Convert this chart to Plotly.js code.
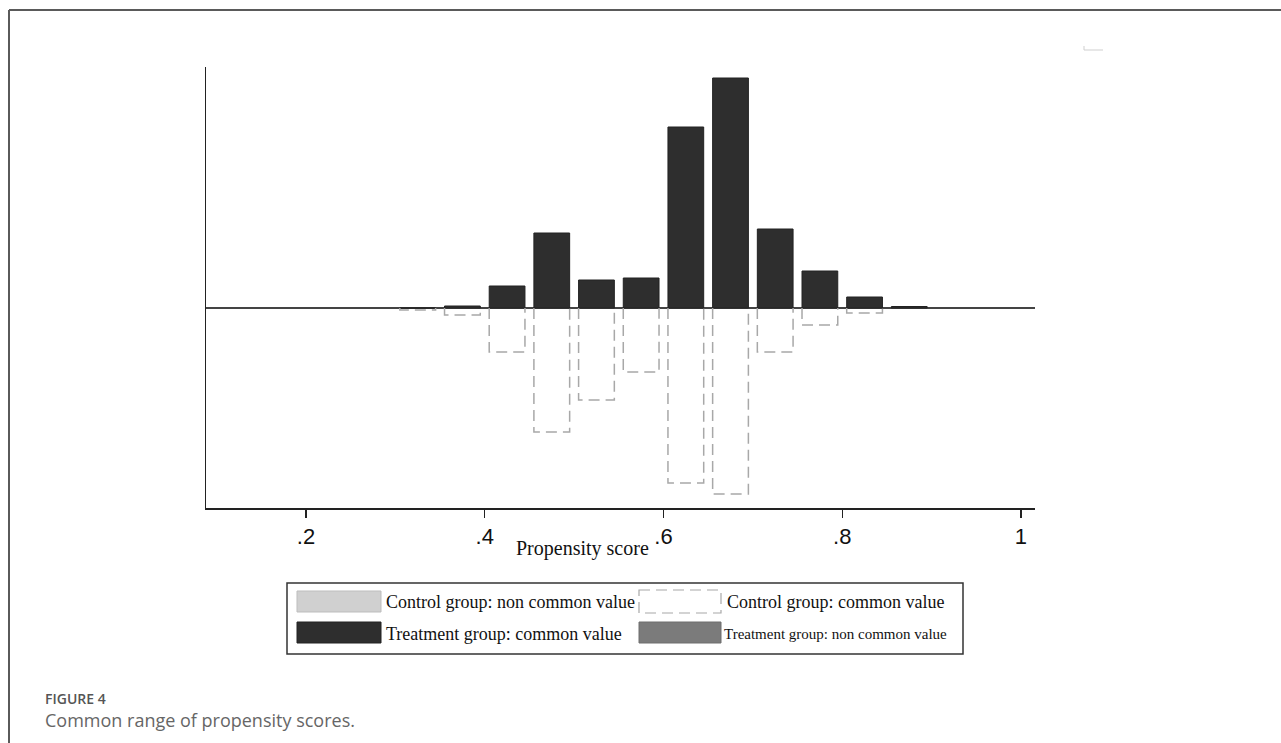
<!DOCTYPE html>
<html>
<head>
<meta charset="utf-8">
<script src="https://cdn.plot.ly/plotly-3.0.1.min.js"></script>
<style>
  html, body { margin: 0; padding: 0; background: #fff; }
  #chart { width: 1281px; height: 743px; }
</style>
</head>
<body>
<div id="chart"></div>
<script>
// ---- data ----
const binCenters      = [0.325, 0.375, 0.425, 0.475, 0.525, 0.575, 0.625, 0.675, 0.725, 0.775, 0.825, 0.875];
const treatmentCommon = [0.0,   0.2,   2.2,   7.5,   2.8,   3.0,   18.1,  23.0,  7.9,   3.7,   1.1,   0.15];
const controlCommon   = [-0.2, -0.7,  -4.4, -12.4,  -9.2,  -6.4, -17.5, -18.6,  -4.4,  -1.7,  -0.5,   0.0];
const tickVals  = [0.2, 0.4, 0.6, 0.8, 1.0];
const tickText  = ['.2', '.4', '.6', '.8', '1'];
const legendLabels = [
  'Control group: non common value',
  'Control group: common value',
  'Treatment group: common value',
  'Treatment group: non common value'
];
const xTitle = 'Propensity score';
const figLabel = 'FIGURE 4';
const figCaption = 'Common range of propensity scores.';

// ---- styling / geometry ----
const barWidth = 0.04;
const W = 1281, H = 743;
const L = 206, R = 1035, T = 67, B = 508;
const xp = px => (px - L) / (R - L);
const yp = py => (B - py) / (B - T);

// dashed outlines for control bars (built from data, drawn on data axes)
const cx = [], cy = [];
binCenters.forEach((c, i) => {
  const v = controlCommon[i];
  if (v === 0) return;
  cx.push(c - barWidth / 2, c - barWidth / 2, c + barWidth / 2, c + barWidth / 2, null);
  cy.push(0, v, v, 0, null);
});

const traces = [
  {
    type: 'bar', x: binCenters, y: treatmentCommon, width: barWidth,
    marker: { color: '#2e2e2e', line: { color: '#222', width: 1 } },
    name: legendLabels[2], hoverinfo: 'x+y'
  },
  {
    type: 'scatter', mode: 'lines', x: cx, y: cy,
    line: { color: '#a8a8a8', width: 1.5, dash: '11px,6px' },
    name: legendLabels[1], hoverinfo: 'skip'
  }
];

const serif = 'Liberation Serif, Times New Roman, serif';
const shapes = [
  // outer frame (top & left)
  { type: 'line', xref: 'paper', yref: 'paper', x0: xp(9), x1: xp(1290), y0: yp(10), y1: yp(10), line: { color: '#5a5a5a', width: 2 } },
  { type: 'line', xref: 'paper', yref: 'paper', x0: xp(9), x1: xp(9), y0: yp(10), y1: yp(750), line: { color: '#5a5a5a', width: 2 } },
  // small mark top-right
  { type: 'path', xref: 'paper', yref: 'paper',
    path: `M ${xp(1084)} ${yp(46)} L ${xp(1084)} ${yp(50)} L ${xp(1103)} ${yp(50)}`,
    line: { color: '#cfcfcf', width: 1 } },
  // legend box
  { type: 'rect', xref: 'paper', yref: 'paper', x0: xp(287), x1: xp(963), y0: yp(583), y1: yp(654), line: { color: '#333', width: 1.5 }, fillcolor: 'rgba(0,0,0,0)' },
  // legend keys
  { type: 'rect', xref: 'paper', yref: 'paper', x0: xp(297), x1: xp(381), y0: yp(591), y1: yp(612), line: { color: '#bdbdbd', width: 1 }, fillcolor: '#d0d0d0' },
  { type: 'rect', xref: 'paper', yref: 'paper', x0: xp(639), x1: xp(721), y0: yp(590), y1: yp(613), line: { color: '#a8a8a8', width: 1.2, dash: '11px,6px' }, fillcolor: '#ffffff' },
  { type: 'rect', xref: 'paper', yref: 'paper', x0: xp(297), x1: xp(381), y0: yp(622), y1: yp(643), line: { color: '#222', width: 1 }, fillcolor: '#2e2e2e' },
  { type: 'rect', xref: 'paper', yref: 'paper', x0: xp(639), x1: xp(721), y0: yp(622), y1: yp(643), line: { color: '#6e6e6e', width: 1 }, fillcolor: '#7b7b7b' }
];

const ann = (text, px, py, size, opts = {}) => Object.assign({
  text, xref: 'paper', yref: 'paper', x: xp(px), y: yp(py),
  xanchor: 'left', yanchor: 'middle', showarrow: false,
  font: { family: serif, size, color: '#111' }
}, opts);

const annotations = [
  ann(legendLabels[0], 384, 602, 18),
  ann(legendLabels[1], 725, 602, 18),
  ann(legendLabels[2], 384, 634, 18),
  ann(legendLabels[3], 722, 634, 15),
  ann(xTitle, 582, 548, 20, { xanchor: 'center' }),
  ann(figLabel, 43, 698, 14, { font: { family: 'Open Sans, Noto Sans, sans-serif', size: 14, color: '#555', weight: 600 } }),
  ann(figCaption, 43, 720, 18, { font: { family: 'Open Sans, Noto Sans, sans-serif', size: 18, color: '#666' } })
];

const layout = {
  width: W, height: H,
  margin: { l: L, r: W - R, t: T, b: H - B, pad: 0 },
  paper_bgcolor: '#fff', plot_bgcolor: '#fff',
  showlegend: false,
  bargap: 0,
  xaxis: {
    range: [0.0881, 1.0157],
    tickvals: tickVals, ticktext: tickText,
    ticks: 'outside', ticklen: 8, tickwidth: 1.2, tickcolor: '#222',
    tickfont: { family: 'Liberation Sans, Arial, sans-serif', size: 22, color: '#111' },
    showline: true, linecolor: '#222', linewidth: 1.5,
    showgrid: false, zeroline: false
  },
  yaxis: {
    range: [-20, 24.1],
    showticklabels: false, ticks: '',
    showline: true, linecolor: '#222', linewidth: 1.5,
    showgrid: false,
    zeroline: true, zerolinecolor: '#444', zerolinewidth: 1.3
  },
  shapes, annotations
};

Plotly.newPlot('chart', traces, layout, { staticPlot: true, displayModeBar: false });
</script>
</body>
</html>
